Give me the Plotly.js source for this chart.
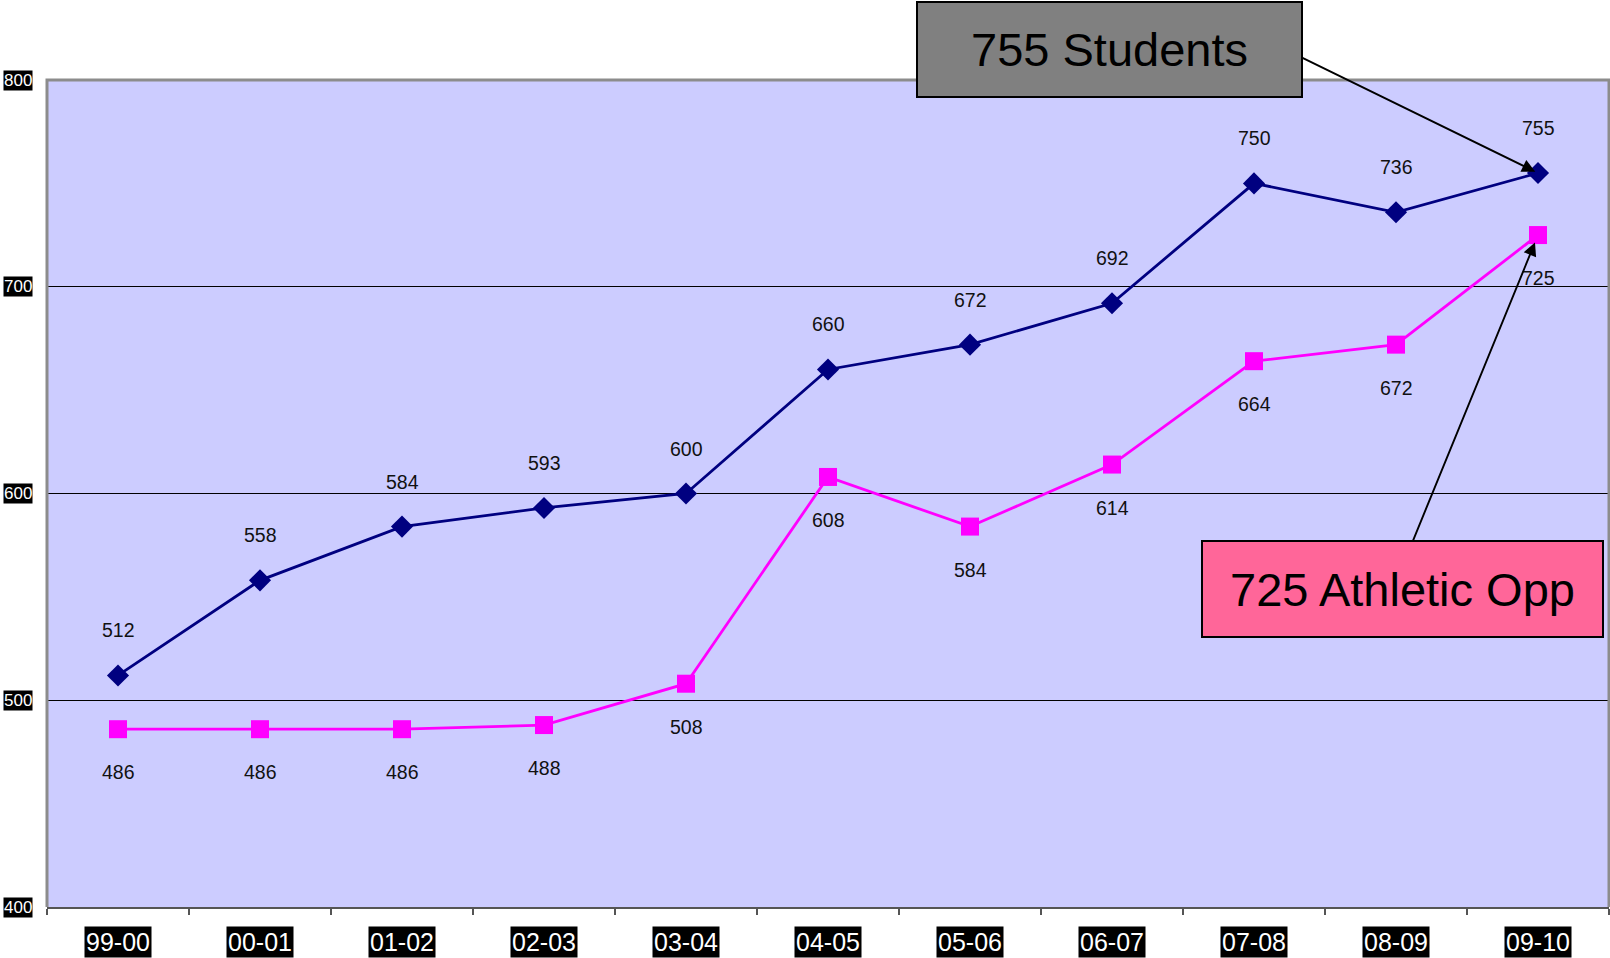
<!DOCTYPE html>
<html>
<head>
<meta charset="utf-8">
<script src="https://cdn.plot.ly/plotly-3.0.1.min.js"></script>
<style>html,body{margin:0;padding:0;background:#fff;}#chart{width:1610px;height:958px;}</style>
</head>
<body>
<div id="chart"></div>
<script>
var categories = ["99-00","00-01","01-02","02-03","03-04","04-05","05-06","06-07","07-08","08-09","09-10"];
var students = [512, 558, 584, 593, 600, 660, 672, 692, 750, 736, 755];
var athletic = [486, 486, 486, 488, 508, 608, 584, 614, 664, 672, 725];
var yTickValues = [400, 500, 600, 700, 800];
var calloutStudents = "755 Students";
var calloutAthletic = "725 Athletic Opp";

var FONT = "Liberation Sans, Arial, sans-serif";

var traces = [
  {
    x: categories, y: students, type: "scatter", mode: "lines+markers",
    line: {color: "#000080", width: 2.8},
    marker: {symbol: "diamond", size: 17, color: "#000080"},
    cliponaxis: false, hoverinfo: "x+y"
  },
  {
    x: categories, y: athletic, type: "scatter", mode: "lines+markers",
    line: {color: "#FF00FF", width: 2.8},
    marker: {symbol: "square", size: 18, color: "#FF00FF"},
    cliponaxis: false, hoverinfo: "x+y"
  }
];

var annotations = [];
categories.forEach(function(c, i) {
  annotations.push({x: c, y: students[i], xref: "x", yref: "y", text: String(students[i]),
    showarrow: false, yshift: 45, font: {family: FONT, size: 19.5, color: "#111"}});
  annotations.push({x: c, y: athletic[i], xref: "x", yref: "y", text: String(athletic[i]),
    showarrow: false, yshift: -43, font: {family: FONT, size: 19.5, color: "#111"}});
  annotations.push({x: c, y: -0.0423, xref: "x", yref: "paper", text: c, showarrow: false,
    yanchor: "middle", bgcolor: "#000", borderpad: 1,
    font: {family: FONT, size: 25, color: "#fff"}});
});
yTickValues.forEach(function(v) {
  annotations.push({x: -0.0186, y: v, xref: "paper", yref: "y", text: String(v), showarrow: false,
    xanchor: "center", yanchor: "middle", bgcolor: "#000", borderpad: 0,
    font: {family: FONT, size: 17, color: "#fff"}});
});
var last = categories.length - 1;
// arrows
annotations.push({x: categories[last], y: students[last], xref: "x", yref: "y", text: "",
  showarrow: true, ax: -237, ay: -116, arrowhead: 2, arrowsize: 1.4, arrowwidth: 1.9,
  arrowcolor: "#000", standoff: 3});
annotations.push({x: categories[last], y: athletic[last], xref: "x", yref: "y", text: "",
  showarrow: true, ax: -126, ay: 308, arrowhead: 2, arrowsize: 1.4, arrowwidth: 1.9,
  arrowcolor: "#000", standoff: 8});
// callout boxes
annotations.push({x: 0.6805, y: 1.0363, xref: "paper", yref: "paper", text: calloutStudents,
  showarrow: false, xanchor: "center", yanchor: "middle", width: 383, height: 93,
  borderpad: 0, borderwidth: 2, bordercolor: "#000", bgcolor: "#808080",
  font: {family: FONT, size: 47, color: "#000"}});
annotations.push({x: 0.8678, y: 0.3845, xref: "paper", yref: "paper", text: calloutAthletic,
  showarrow: false, xanchor: "center", yanchor: "middle", width: 399, height: 94,
  borderpad: 0, borderwidth: 2, bordercolor: "#000", bgcolor: "#FF6699",
  font: {family: FONT, size: 47, color: "#000"}});

var layout = {
  width: 1610, height: 958,
  margin: {l: 47, r: 1, t: 80, b: 51, pad: 0},
  paper_bgcolor: "#fff", plot_bgcolor: "#CCCCFF",
  showlegend: false,
  font: {family: FONT},
  xaxis: {type: "category", range: [-0.5, categories.length - 0.5], showticklabels: false,
    ticks: "outside", tickson: "boundaries", ticklen: 6, tickwidth: 1.5, tickcolor: "#555",
    showline: true, linecolor: "#555", linewidth: 2, showgrid: false, zeroline: false, fixedrange: true},
  yaxis: {range: [400, 800], tick0: 400, dtick: 100, showgrid: true, gridcolor: "#000", gridwidth: 1,
    showticklabels: false, zeroline: false, showline: false, ticks: "", fixedrange: true},
  shapes: [
    {type: "path", xref: "paper", yref: "paper", path: "M0,0 L0,1 L1,1 L1,0",
      line: {color: "#8c8c8c", width: 3}, layer: "above"}
  ],
  annotations: annotations
};

Plotly.newPlot("chart", traces, layout, {displayModeBar: false, staticPlot: true});
</script>
</body>
</html>
